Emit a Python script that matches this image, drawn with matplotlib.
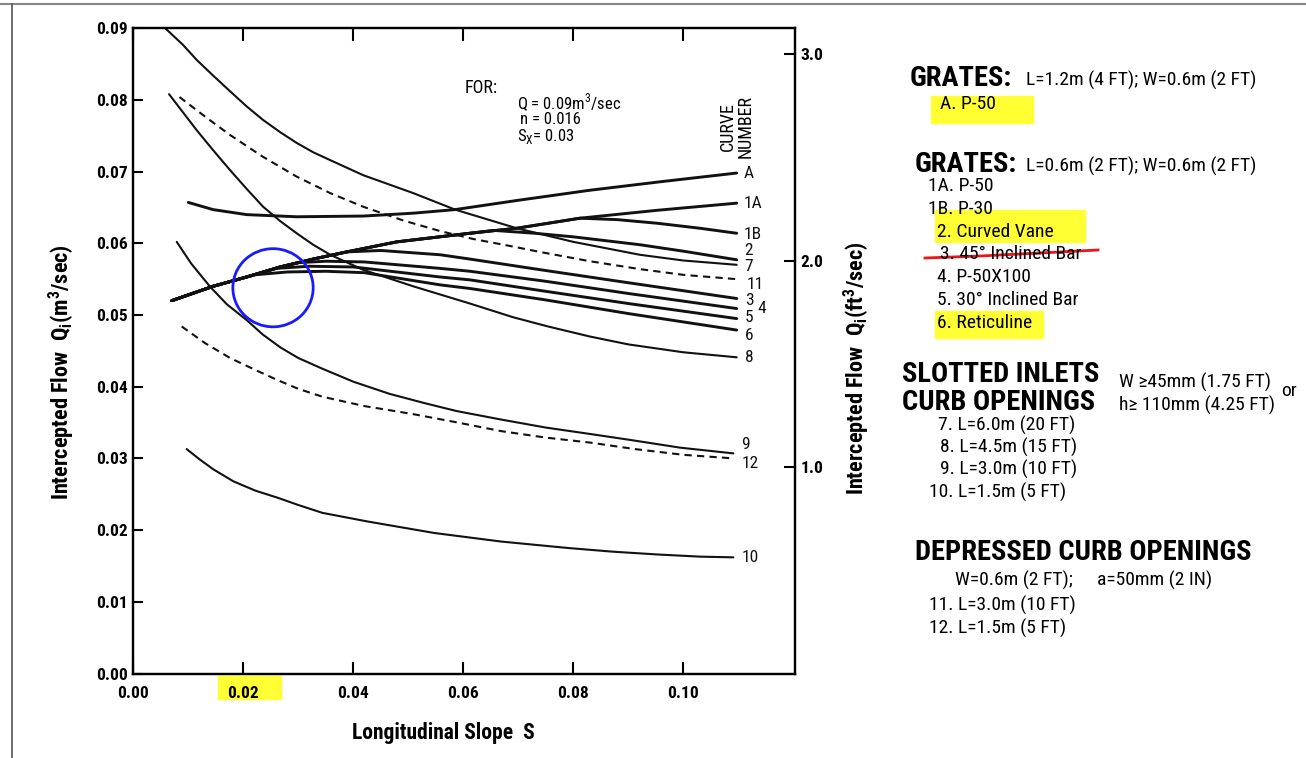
import numpy as np
import matplotlib.pyplot as plt
from matplotlib.patches import Ellipse, Rectangle
from matplotlib.lines import Line2D

plt.rcParams['font.family'] = ['Roboto Condensed', 'Liberation Sans Narrow', 'Liberation Sans', 'DejaVu Sans']
plt.rcParams['mathtext.fontset'] = 'custom'

# ---- curve data (slope S, Qi in m3/s) ----
# shared rising start of the grate curves 1A/1B/2..6
base_x = [0.0070, 0.0145, 0.0206, 0.0267, 0.0327, 0.0388, 0.0479, 0.0612, 0.0697]
base_y = [0.0520, 0.0540, 0.0553, 0.0567, 0.0578, 0.0588, 0.0602, 0.0614, 0.0621]

tail_1A_x = [0.0697, 0.0812, 0.0952, 0.1097]
tail_1A_y = [0.0621, 0.0635, 0.0646, 0.0656]
tail_1B_x = [0.0812, 0.0880, 0.0952, 0.1030, 0.1097]
tail_1B_y = [0.0635, 0.0633, 0.0628, 0.0621, 0.0614]
tail_2_x = [0.0655, 0.0730, 0.0800, 0.0921, 0.1000, 0.1097]
tail_2_y = [0.0618, 0.0614, 0.0609, 0.0598, 0.0589, 0.0577]
tail_3_x = [0.0388, 0.0450, 0.0558, 0.0612, 0.0750, 0.0900, 0.1097]
tail_3_y = [0.0588, 0.0590, 0.0584, 0.0578, 0.0562, 0.0545, 0.0523]
tail_4_x = [0.0300, 0.0350, 0.0420, 0.0558, 0.0612, 0.0750, 0.0900, 0.1097]
tail_4_y = [0.0573, 0.0575, 0.0574, 0.0565, 0.0561, 0.0547, 0.0530, 0.0509]
tail_5_x = [0.0260, 0.0320, 0.0400, 0.0558, 0.0612, 0.0750, 0.0900, 0.1097]
tail_5_y = [0.0565, 0.0568, 0.0567, 0.0553, 0.0549, 0.0533, 0.0516, 0.0495]
tail_6_x = [0.0220, 0.0280, 0.0350, 0.0420, 0.0558, 0.0612, 0.0750, 0.0900, 0.1097]
tail_6_y = [0.0556, 0.0560, 0.0561, 0.0559, 0.0542, 0.0537, 0.0521, 0.0502, 0.0479]

A_x = [0.0100, 0.0145, 0.0206, 0.0297, 0.0418, 0.0509, 0.0585, 0.0700, 0.0830, 0.0960, 0.1097]
A_y = [0.0657, 0.0647, 0.0640, 0.0637, 0.0638, 0.0642, 0.0647, 0.0660, 0.0674, 0.0686, 0.0698]

c7_x = [0.0058, 0.0090, 0.0115, 0.0145, 0.0176, 0.0206, 0.0236, 0.0267, 0.0297, 0.0327, 0.0358,
        0.0418, 0.0509, 0.0585, 0.0697, 0.0800, 0.0921, 0.1000, 0.1097]
c7_y = [0.0900, 0.0877, 0.0856, 0.0834, 0.0812, 0.0791, 0.0772, 0.0755, 0.0740, 0.0727, 0.0716,
        0.0695, 0.0670, 0.0647, 0.0621, 0.0602, 0.0584, 0.0576, 0.0570]
c8_x = [0.0065, 0.0090, 0.0115, 0.0145, 0.0176, 0.0206, 0.0236, 0.0267, 0.0297, 0.0327, 0.0358,
        0.0418, 0.0509, 0.0612, 0.0690, 0.0754, 0.0830, 0.0900, 0.1000, 0.1097]
c8_y = [0.0808, 0.0783, 0.0758, 0.0730, 0.0702, 0.0676, 0.0651, 0.0631, 0.0614, 0.0598, 0.0584,
        0.0563, 0.0540, 0.0516, 0.0497, 0.0484, 0.0470, 0.0459, 0.0448, 0.0441]
c9_x = [0.0079, 0.0105, 0.0139, 0.0170, 0.0206, 0.0235, 0.0267, 0.0300, 0.0344, 0.0400, 0.0466,
        0.0530, 0.0588, 0.0670, 0.0750, 0.0831, 0.0910, 0.0994, 0.1091]
c9_y = [0.0602, 0.0572, 0.0540, 0.0515, 0.0493, 0.0473, 0.0455, 0.0440, 0.0425, 0.0407, 0.0390,
        0.0377, 0.0366, 0.0354, 0.0343, 0.0334, 0.0325, 0.0315, 0.0307]
c10_x = [0.0097, 0.0120, 0.0145, 0.0182, 0.0222, 0.0263, 0.0300, 0.0344, 0.0426, 0.0547, 0.0669,
         0.0791, 0.0870, 0.0953, 0.1030, 0.1091]
c10_y = [0.0313, 0.0299, 0.0285, 0.0268, 0.0255, 0.0245, 0.0235, 0.0224, 0.0212, 0.0196, 0.0184,
         0.0175, 0.0170, 0.0166, 0.0163, 0.0162]
c11_x = [0.0084, 0.0130, 0.0176, 0.0235, 0.0297, 0.0358, 0.0418, 0.0490, 0.0558, 0.0618, 0.0680,
         0.0739, 0.0830, 0.0921, 0.1000, 0.1097]
c11_y = [0.0804, 0.0777, 0.0751, 0.0721, 0.0693, 0.0670, 0.0651, 0.0632, 0.0617, 0.0606, 0.0597,
         0.0588, 0.0575, 0.0564, 0.0556, 0.0550]
c12_x = [0.0088, 0.0130, 0.0176, 0.0220, 0.0260, 0.0300, 0.0344, 0.0420, 0.0507, 0.0590, 0.0669,
         0.0750, 0.0831, 0.0912, 0.1000, 0.1091]
c12_y = [0.0484, 0.0461, 0.0440, 0.0424, 0.0410, 0.0397, 0.0386, 0.0373, 0.0362, 0.0350, 0.0338,
         0.0329, 0.0322, 0.0313, 0.0305, 0.0300]

x_ticks = [0.00, 0.02, 0.04, 0.06, 0.08, 0.10]
y_ticks = [0.00, 0.01, 0.02, 0.03, 0.04, 0.05, 0.06, 0.07, 0.08, 0.09]
ft_ticks = [1.0, 2.0, 3.0]
m3_per_ft3 = 0.0288  # as drawn on the chart's right scale


def with_base(tx, ty):
    # grate curves follow the common rising start until they branch off
    bx = [x for x in base_x if x < tx[0]]
    by = base_y[:len(bx)]
    return bx + tx, by + ty


W, H = 1306, 758
fig = plt.figure(figsize=(W / 100, H / 100), dpi=100)


def fx(px):
    return px / W


def fy(py):
    return 1 - py / H


ax = fig.add_axes([fx(133.3), fy(673.5), fx(795) - fx(133.3), fy(28.2) - fy(673.5)])
ax.set_xlim(0, 0.1203)
ax.set_ylim(0, 0.09)

solid = dict(color='#111111', lw=1.5, solid_capstyle='round', solid_joinstyle='round')
thick = dict(color='#111111', lw=2.1, solid_capstyle='round', solid_joinstyle='round')
dashed = dict(color='#111111', lw=1.5, linestyle=(0, (3.5, 2.5)))

curves = {}
curves['A'] = (A_x, A_y, thick)
curves['1A'] = with_base(tail_1A_x, tail_1A_y) + (thick,)
curves['1B'] = with_base(tail_1B_x, tail_1B_y) + (thick,)
curves['2'] = with_base(tail_2_x, tail_2_y) + (thick,)
curves['3'] = with_base(tail_3_x, tail_3_y) + (thick,)
curves['4'] = with_base(tail_4_x, tail_4_y) + (thick,)
curves['5'] = with_base(tail_5_x, tail_5_y) + (thick,)
curves['6'] = with_base(tail_6_x, tail_6_y) + (thick,)
curves['7'] = (c7_x, c7_y, solid)
curves['8'] = (c8_x, c8_y, solid)
curves['9'] = (c9_x, c9_y, solid)
curves['10'] = (c10_x, c10_y, solid)
curves['11'] = (c11_x, c11_y, dashed)
curves['12'] = (c12_x, c12_y, dashed)

# label offsets from the curve end, in pixels (labels are crowded, as on the original)
lab_off = {'A': (7, 0), '1A': (7, 0), '1B': (7, -1), '2': (8, 9), '7': (8, -2),
           '11': (10, -5), '3': (8, -2), '4': (21, 0), '5': (8, 1), '6': (8, -5),
           '8': (8, 0), '9': (8, 9), '12': (8, -5), '10': (8, 0)}

for name, (xs, ys, st) in curves.items():
    ax.plot(xs, ys, **st)
    ax.annotate(name, (xs[-1], ys[-1]), xytext=lab_off[name], textcoords='offset pixels',
                ha='left', va='center', fontsize=12.5, color='#111111')

# axes styling
for s in ax.spines.values():
    s.set_linewidth(1.6)
ax.set_xticks(x_ticks)
ax.set_xticklabels(['%.2f' % v for v in x_ticks], fontsize=12.5, fontweight='bold')
ax.set_yticks(y_ticks)
ax.set_yticklabels(['%.2f' % v for v in y_ticks], fontsize=12.5, fontweight='bold')
ax.tick_params(axis='x', direction='in', length=9, width=1.5, top=True, pad=9)
ax.tick_params(axis='y', direction='in', length=7, width=1.5, pad=4)

ax2 = ax.twinx()
ax2.set_ylim(0, 0.09 / m3_per_ft3)
ax2.set_yticks(ft_ticks)
ax2.set_yticklabels(['%.1f' % v for v in ft_ticks], fontsize=12.5, fontweight='bold')
ax2.tick_params(axis='y', direction='in', length=8, width=1.5, pad=4)
for s in ax2.spines.values():
    s.set_linewidth(1.6)

fig.text(fx(443), fy(733), 'Longitudinal Slope  S', ha='center', va='center',
         fontsize=15.5, fontweight='bold')
fig.text(fx(62), fy(372), r'Intercepted Flow  Q$_\mathregular{i}$(m$^\mathregular{3}$/sec)',
         rotation=90, ha='center', va='center', fontsize=16, fontweight='bold')
fig.text(fx(857), fy(368), r'Intercepted Flow  Q$_\mathregular{i}$(ft$^\mathregular{3}$/sec)',
         rotation=90, ha='center', va='center', fontsize=16, fontweight='bold')

# FOR: note and curve number heading
fig.text(fx(465), fy(88), 'FOR:', ha='left', va='center', fontsize=13)
fig.text(fx(517), fy(103), r'Q = 0.09m$^\mathregular{3}$/sec', ha='left', va='center', fontsize=12)
fig.text(fx(520), fy(120), 'n = 0.016', ha='left', va='center', fontsize=12)
fig.text(fx(517), fy(136), r'S$_\mathregular{X}$= 0.03', ha='left', va='center', fontsize=12)
fig.text(fx(737), fy(127), 'CURVE\nNUMBER', rotation=90, ha='center', va='center',
         fontsize=13, linespacing=0.95)

# hand markup on the scanned chart
ax.add_patch(Ellipse((0.0254, 0.0538), 0.0146, 0.0109, fill=False, ec='#1a1aff', lw=2.0, zorder=5))


def hilite(x0, y0, x1, y1):
    fig.patches.append(Rectangle((fx(x0), fy(y1)), fx(x1) - fx(x0), fy(y0) - fy(y1),
                                 transform=fig.transFigure, color='#ffff33', zorder=-1))


hilite(931, 96, 1033, 123)
hilite(935, 210, 1085, 242)
hilite(935, 311, 1043, 338)
hilite(218, 676, 281, 699)

# frame lines of the screenshot
fig.add_artist(Line2D([0, 1], [fy(4), fy(4)], transform=fig.transFigure, color='#888888', lw=1.5))
fig.add_artist(Line2D([fx(12), fx(12)], [fy(4), 0], transform=fig.transFigure, color='#555555', lw=1.2))

# legend text on the right
big = dict(fontsize=20.5, fontweight='bold', ha='left', va='center')
small = dict(fontsize=14, ha='left', va='center')
fig.text(fx(910), fy(78), 'GRATES:', **big)
fig.text(fx(1026), fy(80), 'L=1.2m (4 FT); W=0.6m (2 FT)', **small)
fig.text(fx(940), fy(104), 'A. P-50', **small)
fig.text(fx(915), fy(164), 'GRATES:', **big)
fig.text(fx(1026), fy(166), 'L=0.6m (2 FT); W=0.6m (2 FT)', **small)
grate_items = ['1A. P-50', '1B. P-30', '2. Curved Vane', '3. 45° Inclined Bar',
               '4. P-50X100', '5. 30° Inclined Bar', '6. Reticuline']
grate_px = [928, 928, 937, 940, 937, 937, 937]
grate_py = [186, 209, 232, 254, 277, 300, 323]
for t, px, py in zip(grate_items, grate_px, grate_py):
    fig.text(fx(px), fy(py), t, **small)
fig.add_artist(Line2D([fx(925), fx(980), fx(1040), fx(1098)], [fy(258), fy(256), fy(253), fy(250)],
                      transform=fig.transFigure, color='#e8151b', lw=2))

fig.text(fx(902), fy(375), 'SLOTTED INLETS', **big)
fig.text(fx(902), fy(403), 'CURB OPENINGS', **big)
fig.text(fx(1119), fy(382), 'W ≥45mm (1.75 FT)', **small)
fig.text(fx(1119), fy(405), 'h≥ 110mm (4.25 FT)', **small)
fig.text(fx(1281), fy(391), 'or', **small)
curb_items = ['7. L=6.0m (20 FT)', '8. L=4.5m (15 FT)', '9. L=3.0m (10 FT)', '10. L=1.5m (5 FT)']
curb_px = [938, 940, 940, 929]
curb_py = [425, 447, 469, 492]
for t, px, py in zip(curb_items, curb_px, curb_py):
    fig.text(fx(px), fy(py), t, **small)

fig.text(fx(915), fy(553), 'DEPRESSED CURB OPENINGS', **big)
fig.text(fx(955), fy(580), 'W=0.6m (2 FT);', **small)
fig.text(fx(1097), fy(580), 'a=50mm (2 IN)', **small)
fig.text(fx(929), fy(605), '11. L=3.0m (10 FT)', **small)
fig.text(fx(929), fy(628), '12. L=1.5m (5 FT)', **small)

fig.savefig('out.png', dpi=100)
